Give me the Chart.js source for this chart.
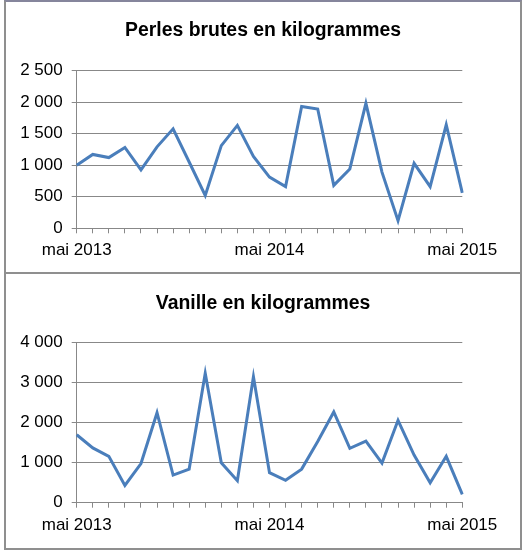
<!DOCTYPE html>
<html>
<head>
<meta charset="utf-8">
<script src="https://cdn.jsdelivr.net/npm/chart.js@4/dist/chart.umd.min.js"></script>
<style>
	body { margin: 0; background: #fff; }
	.panel { position: absolute; left: 4px; width: 518px; box-sizing: border-box; border: 2px solid #8f8f8f; background: #fff; }
	#p1 { top: 0; height: 274px; border-top-color: #85859c; }
	#p2 { top: 274px; height: 276px; border-top: none; }
	.panel div { position: relative; width: 514px; }
</style>
</head>
<body>
<div class="panel" id="p1"><div style="height:270px"><canvas id="perles"></canvas></div></div>
<div class="panel" id="p2"><div style="height:274px"><canvas id="vanille"></canvas></div></div>
<script>
const months = [
	"mai 2013", "juin 2013", "juil. 2013", "août 2013", "sept. 2013", "oct. 2013", "nov. 2013", "déc. 2013",
	"janv. 2014", "févr. 2014", "mars 2014", "avr. 2014", "mai 2014", "juin 2014", "juil. 2014", "août 2014",
	"sept. 2014", "oct. 2014", "nov. 2014", "déc. 2014", "janv. 2015", "févr. 2015", "mars 2015", "avr. 2015",
	"mai 2015",
]

const perles = [1000, 1170, 1120, 1280, 925, 1290, 1575, 1050, 520, 1310, 1630, 1140, 810, 660,
	1930, 1890, 680, 940, 1980, 890, 120, 1030, 660, 1640, 560]

const vanille = [1700, 1370, 1160, 430, 980, 2250, 690, 840, 3240, 1000, 550, 3150, 750, 560,
	840, 1530, 2270, 1360, 1540, 990, 2060, 1190, 500, 1160, 210]

const gridColor = "#888888"
const lineColor = "#4a7ebb"

function formatThousands(v) {
	return String(v).replace(/\B(?=(\d{3})+(?!\d))/g, " ")
}

function makeChart(id, title, data, max, step, titlePad, bottomSpace) {
	return new Chart(document.getElementById(id), {
		type: "line",
		data: {
			labels: months,
			datasets: [{
				data,
				borderColor: lineColor,
				borderWidth: 3,
				pointRadius: 0,
				tension: 0,
				fill: false,
			}],
		},
		options: {
			responsive: true,
			maintainAspectRatio: false,
			animation: false,
			layout: { padding: 0 },
			plugins: {
				legend: { display: false },
				tooltip: { enabled: false },
				title: {
					display: true,
					text: title,
					color: "#000",
					font: { family: "Liberation Sans", size: 19.4, weight: "bold" },
					padding: titlePad,
				},
			},
			scales: {
				x: {
					grid: { drawOnChartArea: false, color: gridColor, tickLength: 5 },
					border: { color: gridColor, width: 1 },
					ticks: {
						autoSkip: false,
						maxRotation: 0,
						padding: 7,
						color: "#000",
						font: { family: "Liberation Sans", size: 17 },
						callback: (value, index) => (index % 12 === 0 ? months[index] : ""),
					},
					afterFit: (scale) => { scale.height = bottomSpace },
				},
				y: {
					min: 0,
					max,
					grid: { color: gridColor, tickLength: 5 },
					border: { color: gridColor, width: 1 },
					ticks: {
						stepSize: step,
						padding: 9,
						color: "#000",
						font: { family: "Liberation Sans", size: 17 },
						callback: (value) => formatThousands(value),
					},
					afterFit: (scale) => { scale.width = 70.7 },
				},
				// empty right axis, only keeps the blank margin on the right
				spacer: {
					type: "linear",
					position: "right",
					min: 0,
					max: 1,
					grid: { display: false },
					border: { display: false },
					ticks: { display: false },
					afterFit: (scale) => { scale.width = 57.7 },
				},
			},
		},
	})
}

makeChart("perles", "Perles brutes en kilogrammes", perles, 2500, 500, { top: 16.6, bottom: 28.6 }, 43.7)
makeChart("vanille", "Vanille en kilogrammes", vanille, 4000, 1000, { top: 17.6, bottom: 27.9 }, 45.3)
</script>
</body>
</html>
